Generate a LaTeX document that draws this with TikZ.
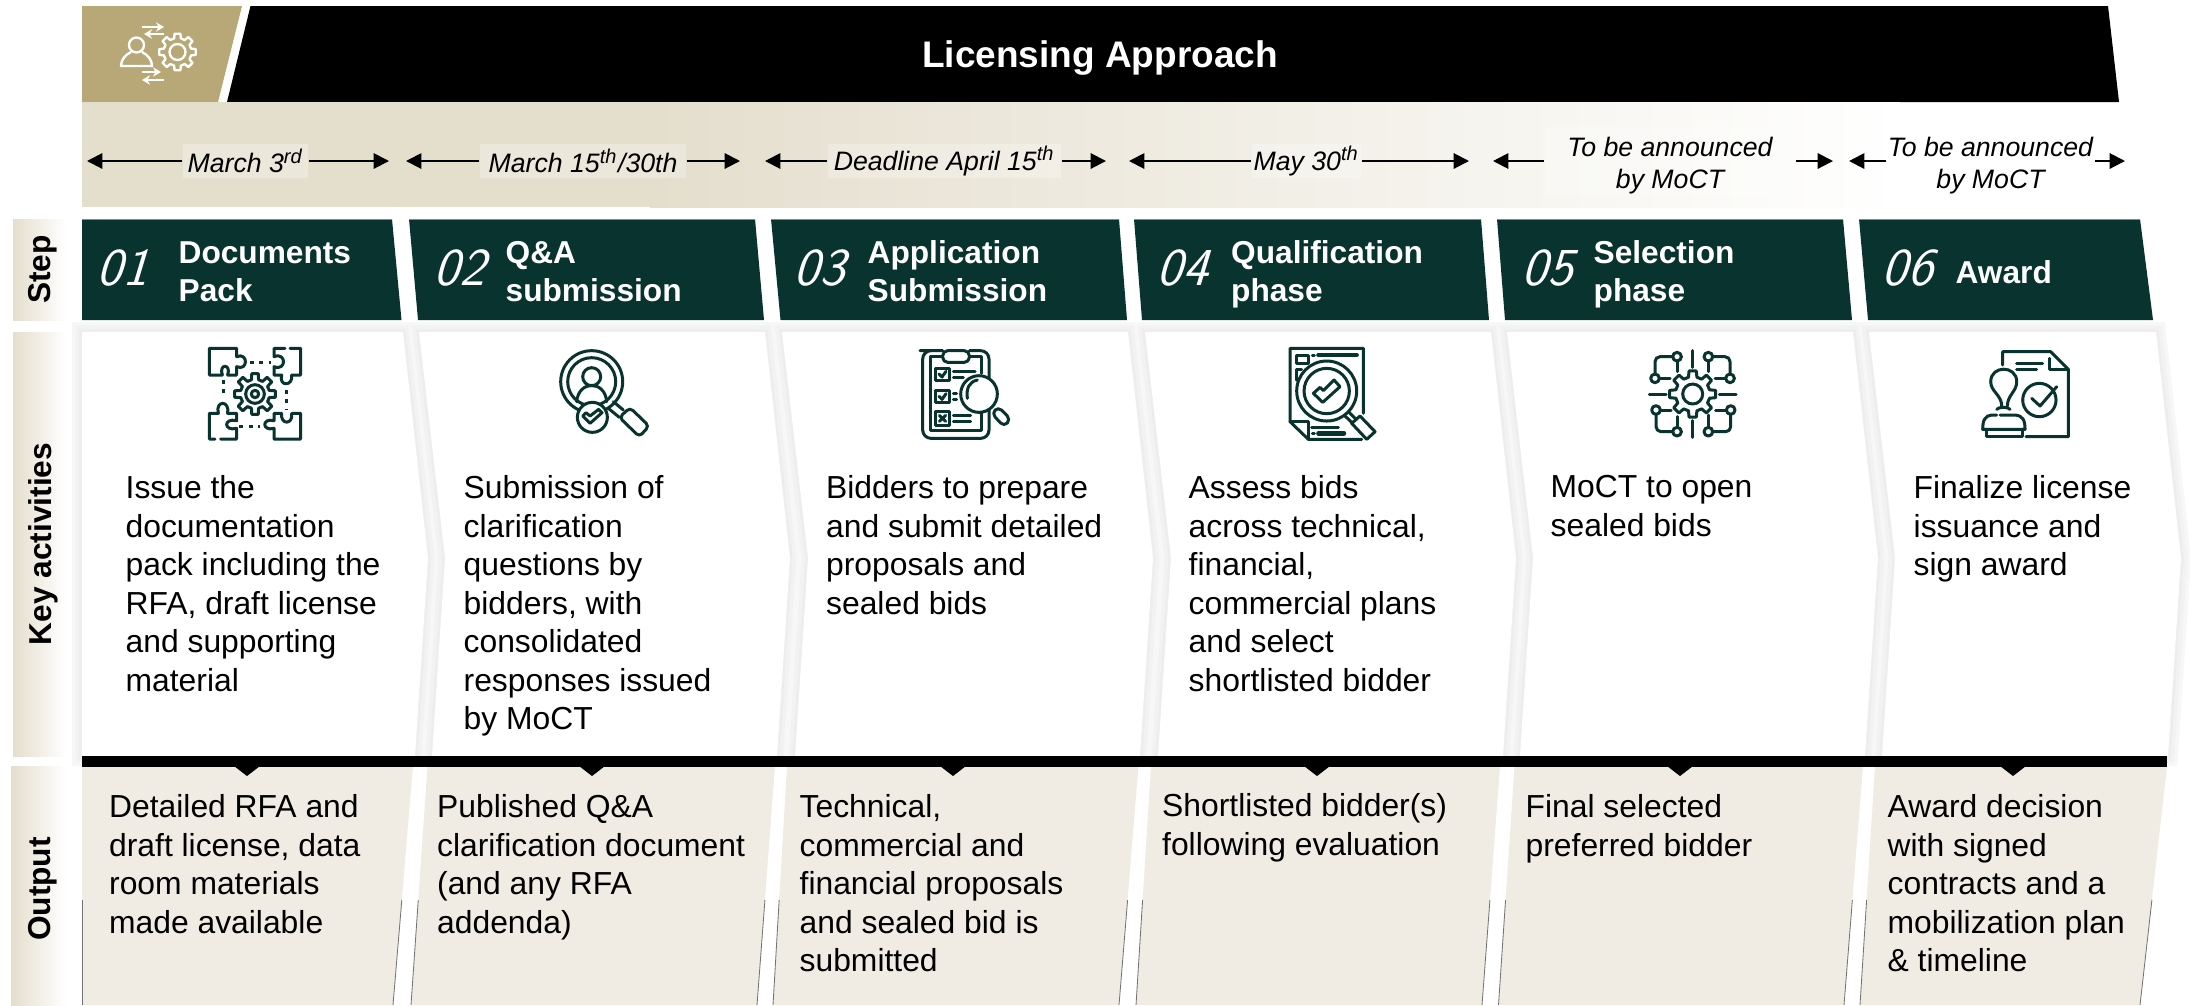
\documentclass[tikz,border=0pt]{standalone}
\usepackage{fontspec}
\setmainfont{Liberation Sans}
\newfontfamily\numfont[FakeSlant=0.3]{Latin Modern Sans}
\usetikzlibrary{arrows.meta}
\definecolor{stepgreen}{HTML}{09332F}
\definecolor{headgold}{HTML}{B8A878}
\definecolor{bandgold}{HTML}{E4DECD}
\definecolor{outfill}{HTML}{F0ECE4}
\newcommand{\gearshape}[3]{\draw[shift={(#1)}] (-14:#2) \foreach \a in {0,45,...,315}{ -- (\a-14:#2) -- (\a-9:#3) -- (\a+9:#3) -- (\a+14:#2)} -- cycle;}
\begin{document}
\begin{tikzpicture}[x=0.3pt,y=-0.3pt,
    bodytext/.style={anchor=north west,align=left,inner sep=0pt,font=\fontsize{9.55}{11.55}\selectfont,execute at begin node=\strut},
    steptext/.style={anchor=west,align=left,inner sep=0pt,text=white,font=\bfseries\fontsize{9.5}{11.4}\selectfont,execute at begin node=\strut,execute at end node=\strut},
    stepnum/.style={inner sep=0pt,text=white,font=\numfont\fontsize{16}{16}\selectfont},
    rowlabel/.style={rotate=90,inner sep=0pt,font=\bfseries\fontsize{9.5}{11}\selectfont},
    datelabel/.style={inner sep=0pt,align=center,fill=white,fill opacity=0.28,text opacity=1,font=\itshape\fontsize{8}{9.6}\selectfont},
    datearrow/.style={-{Triangle[length=4.6pt,width=4.6pt]},line width=0.6pt},
    cardshadow/.style={preaction={draw=black!3,line width=6pt},preaction={draw=black!5,line width=3.8pt},draw=black!7,line width=1.6pt},
    iconline/.style={color=stepgreen,line width=0.9pt,line join=round,line cap=round},
    iconzoom/.style={x=0.1pt,y=-0.1pt}]

  \useasboundingbox (0,0) rectangle (2190,1005);

  \fill[headgold] (82,6) -- (242,6) -- (218,102) -- (82,102) -- cycle;
  \fill[black] (250.5,6) -- (2108,6) -- (2119,102) -- (227,102) -- cycle;
  \node[text=white,inner sep=0pt,font=\bfseries\fontsize{11.1}{13}\selectfont] (title) at (1100,58) {Licensing Approach};

  \begin{scope}[color=white,line width=0.7pt,line join=round]
    \gearshape{177.5,52}{14}{18.5}
    \draw (177.5,52) circle[radius=8];
    \draw (136.5,45) circle[radius=7.5];
    \draw (131,52) .. controls (125,55) and (121,60) .. (121,66) -- (152,66) .. controls (152,60) and (148,55) .. (142,52);
    \draw[-{Stealth[length=2.4pt,width=2.8pt]}] (142,27) -- (164,27);
    \draw[-{Stealth[length=2.4pt,width=2.8pt]}] (164,34) -- (144,34);
    \draw[-{Stealth[length=2.4pt,width=2.8pt]}] (142,72) -- (161,72);
    \draw[-{Stealth[length=2.4pt,width=2.8pt]}] (164,80) -- (142,80);
  \end{scope}

  \fill[bandgold] (82,102) rectangle (650,207);
  \shade[left color=bandgold,right color=white] (650,102) rectangle (1900,207);

  \node[datelabel,minimum width=37.5pt,minimum height=10.2pt] (date1) at (245.5,161) {March 3\textsuperscript{rd}};
  \node[datelabel,minimum width=61.8pt,minimum height=10.2pt] (date2) at (583,161) {March 15\textsuperscript{th}/30th};
  \node[datelabel,minimum width=69.9pt,minimum height=10.2pt] (date3) at (944.5,161) {Deadline April 15\textsuperscript{th}};
  \node[datelabel,minimum width=32.7pt,minimum height=10.2pt] (date4) at (1306.5,161) {May 30\textsuperscript{th}};
  \node[datelabel,minimum width=75pt,minimum height=20.4pt] (date5) at (1670,161) {\rule{0pt}{8.3pt}To be announced\\by MoCT};
  \node[datelabel,minimum width=62.1pt,minimum height=20.4pt] (date6) at (1990.5,161) {\rule{0pt}{8.3pt}To be announced\\by MoCT};

  \foreach \n/\xl/\xr in {1/87/389,2/406/740,3/765/1106,4/1129/1469,5/1493/1833,6/1849/2125}{
    \coordinate (date\n l) at (\xl,161);
    \coordinate (date\n r) at (\xr,161);
    \draw[datearrow] (date\n) -- (date\n l);
    \draw[datearrow] (date\n) -- (date\n r);
  }

  \shade[left color=bandgold,right color=white] (13,219) rectangle (66,320);
  \shade[left color=bandgold,right color=white] (13,332) rectangle (66,756);
  \shade[left color=bandgold,right color=white] (11,766) rectangle (66,1005);
  \node[rowlabel] (rowstep) at (43,269.5) {Step};
  \node[rowlabel] (rowkey) at (43,544) {Key activities};
  \node[rowlabel] (rowout) at (43,889) {Output};

  \foreach \tl/\bl/\tr/\br in {82/82/392/401.5,409/418/755/764,771/780.5/1119/1127,1134/1142/1481/1489,1497/1505/1843/1852,1859/1868/2140/2153}{
    \fill[stepgreen] (\tl,219) -- (\tr,219) -- (\br,320) -- (\bl,320) -- cycle;
    \draw[stepgreen!55,line width=0.3pt] (\tl,219.5) -- (\tr,219.5);
  }

  \node[stepnum] (num1) at (122,268) {01};
  \node[stepnum] (num2) at (459,268) {02};
  \node[stepnum] (num3) at (819,268) {03};
  \node[stepnum] (num4) at (1182,268) {04};
  \node[stepnum] (num5) at (1547,268) {05};
  \node[stepnum] (num6) at (1907,268) {06};
  \node[steptext] (step1) at (178,277) {Documents\\Pack};
  \node[steptext] (step2) at (505,277) {Q\&A\\submission};
  \node[steptext] (step3) at (867,277) {Application\\Submission};
  \node[steptext] (step4) at (1230.5,277) {Qualification\\phase};
  \node[steptext] (step5) at (1593,277) {Selection\\phase};
  \node[steptext] (step6) at (1955,276) {Award};

  \foreach \la/\lb/\lc/\ra in {82/82/82/403,419/445/432/765,782/808/795/1128,1145/1171/1158/1491,1507/1533/1520/1853,1869/1895/1882/2156}{
    \draw[cardshadow] (\la,332) -- (\ra,332) -- (\ra+25,558) -- (\ra+12,756) -- (\lc,756) -- (\lb,558) -- cycle;
  }
  \foreach \la/\lb/\lc/\ra in {82/82/82/403,419/445/432/765,782/808/795/1128,1145/1171/1158/1491,1507/1533/1520/1853,1869/1895/1882/2156}{
    \fill[white] (\la,332) -- (\ra,332) -- (\ra+25,558) -- (\ra+12,756) -- (\lc,756) -- (\lb,558) -- cycle;
  }

  \foreach \tl/\bl/\tr/\br in {82/82/413/393,427.5/411/775/757,787/773/1138.5/1119,1151/1136/1500/1482,1514.5/1498.5/1863/1844,1875/1860/2167/2140}{
    \fill[outfill] (\tl,766) -- (\tr,766) -- (\br,1005) -- (\bl,1005) -- cycle;
    \draw[black!55,line width=0.25pt] (\bl,1005) -- (\bl+0.44*\tl-0.44*\bl,900);
    \draw[black!55,line width=0.25pt] (\br,1005) -- (\br+0.44*\tr-0.44*\br,900);
  }

  \fill[black] (82,756) rectangle (2167,767);
  \foreach \cx in {247,592,953,1317,1680,2013}{
    \fill[black] (\cx-13,766) -- (\cx+13,766) -- (\cx,776) -- cycle;
  }

  \node[bodytext] (act1) at (125,475) {Issue the\\documentation\\pack including the\\RFA, draft license\\and supporting\\material};
  \node[bodytext] (act2) at (463,475) {Submission of\\clarification\\questions by\\bidders, with\\consolidated\\responses issued\\by MoCT};
  \node[bodytext] (act3) at (825.5,475) {Bidders to prepare\\and submit detailed\\proposals and\\sealed bids};
  \node[bodytext] (act4) at (1188,475) {Assess bids\\across technical,\\financial,\\commercial plans\\and select\\shortlisted bidder};
  \node[bodytext] (act5) at (1550,475) {MoCT to open\\sealed bids};
  \node[bodytext] (act6) at (1913,475) {Finalize license\\issuance and\\sign award};

  \node[bodytext] (out1) at (108.5,794) {Detailed RFA and\\draft license, data\\room materials\\made available};
  \node[bodytext] (out2) at (436.5,794) {Published Q\&A\\clarification document\\(and any RFA\\addenda)};
  \node[bodytext] (out3) at (799,794) {Technical,\\commercial and\\financial proposals\\and sealed bid is\\submitted};
  \node[bodytext] (out4) at (1161.5,793) {Shortlisted bidder(s)\\following evaluation};
  \node[bodytext] (out5) at (1525,794) {Final selected\\preferred bidder};
  \node[bodytext] (out6) at (1887,794) {Award decision\\with signed\\contracts and a\\mobilization plan\\\& timeline};

  \begin{scope}[shift={(180,330)},iconzoom,iconline]
    \draw (88,135) -- (88,55) -- (170,55) -- (170,80) .. controls (205,65) and (205,125) .. (170,110) -- (170,135) -- (143,135) .. controls (155,100) and (115,100) .. (127,135) -- cycle;
    \draw (330,55) -- (362,55) -- (362,135) -- (335,135) .. controls (340,170) and (295,170) .. (305,135) -- (282,135) -- (282,110) .. controls (320,125) and (320,65) .. (282,80) -- (282,55) -- (315,55);
    \draw (105,327) -- (88,327) -- (88,250) -- (115,250) .. controls (105,210) and (150,210) .. (143,250) -- (170,250) -- (170,272) .. controls (130,262) and (130,305) .. (170,295) -- (170,327) -- (122,327);
    \draw (362,250) -- (335,250) .. controls (340,285) and (300,285) .. (305,250) -- (282,250) -- (282,272) .. controls (245,262) and (245,305) .. (282,295) -- (282,327) -- (362,327) -- cycle;
    \draw[dash pattern=on 1.2pt off 1.6pt,line cap=butt] (210,97) -- (272,97);
    \draw[dash pattern=on 1.2pt off 1.6pt,line cap=butt] (130,150) -- (130,205);
    \draw[dash pattern=on 1.2pt off 1.6pt,line cap=butt] (320,180) -- (320,240);
    \draw[dash pattern=on 1.2pt off 1.6pt,line cap=butt] (178,288) -- (240,288);
    \gearshape{225,192}{44}{62}
    \draw (225,192) circle[radius=28];
    \draw (225,192) circle[radius=11];
  \end{scope}

  \begin{scope}[shift={(180,330)},iconzoom,iconline]
    \draw (1235,155) circle[radius=93];
    \draw (1235,155) circle[radius=72];
    \draw (1235,140) circle[radius=27];
    \draw (1190,215) .. controls (1195,150) and (1275,150) .. (1280,215);
    \draw (1300,215) -- (1330,240);
    \draw (1285,235) -- (1318,262);
    \draw[rounded corners=1.2pt] (1318,262) -- (1350,233) -- (1407,288) -- (1378,320) -- cycle;
    \filldraw[fill=white] (1237,262) circle[radius=45];
    \draw (1208,258) -- (1218,248) -- (1230,258) -- (1256,238) -- (1266,248) -- (1230,280) -- cycle;
  \end{scope}

  \begin{scope}[shift={(880,330)},iconzoom,iconline]
    \draw[rounded corners=2.5pt] (188,62) -- (145,62) -- (128,62) -- (128,325) -- (327,325) -- (327,62) -- (268,62);
    \draw[rounded corners=1.5pt] (188,62) -- (188,97) -- (268,97) -- (268,62) -- cycle;
    \draw (188,80) -- (150,80) -- (150,300) -- (305,300) -- (305,250);
    \draw (268,80) -- (305,80) -- (305,130);
    \draw (167,115) rectangle (208,150);
    \draw (167,180) rectangle (208,218);
    \draw (167,245) rectangle (208,285);
    \draw (177,132) -- (186,141) -- (198,124);
    \draw (177,199) -- (186,208) -- (198,191);
    \draw (178,256) -- (197,274);
    \draw (197,256) -- (178,274);
    \draw (220,125) -- (285,125);
    \draw (220,142) -- (250,142);
    \draw (220,190) -- (230,190);
    \draw (220,208) -- (230,208);
    \draw (220,257) -- (272,257);
    \draw (220,275) -- (272,275);
    \filldraw[fill=white] (297,192) circle[radius=55];
    \draw (262,205) .. controls (258,175) and (268,155) .. (292,150);
    \draw[rounded corners=1.5pt] (335,250) -- (355,230) -- (392,268) -- (372,290) -- cycle;
  \end{scope}

  \begin{scope}[shift={(880,330)},iconzoom,iconline]
    \draw (1450,250) -- (1450,55) -- (1230,55) -- (1230,275) -- (1285,328) -- (1445,328);
    \draw (1230,275) -- (1285,275) -- (1285,328);
    \draw (1248,75) rectangle (1285,100);
    \draw (1297,75) -- (1303,75);
    \draw[line width=1.3pt] (1315,75) -- (1430,75);
    \draw (1248,150) -- (1248,118) -- (1265,118);
    \draw (1295,292) -- (1375,292);
    \draw (1297,310) -- (1303,310);
    \draw[line width=1.3pt] (1315,310) -- (1392,310);
    \filldraw[fill=white] (1340,183) circle[radius=90];
    \draw (1340,183) circle[radius=68];
    \draw (1300,190) -- (1320,172) -- (1330,182) -- (1362,150) -- (1380,170) -- (1328,217) -- cycle;
    \draw (1405,245) -- (1428,268);
    \draw (1395,258) -- (1418,280);
    \draw (1415,280) -- (1440,258) -- (1485,305) -- (1460,328) -- cycle;
  \end{scope}

  \begin{scope}[shift={(1600,330)},iconzoom,iconline]
    \gearshape{278,192}{52}{70}
    \draw (278,192) circle[radius=30];
    \draw (278,62) -- (278,112);
    \draw (278,272) -- (278,322);
    \draw (148,192) -- (198,192);
    \draw (358,192) -- (408,192);
    \foreach \cx/\cy in {231/80,325/80,165/145,390/145,168/240,392/240,231/305,325/305}{
      \draw (\cx,\cy) circle[radius=13];
    }
    \draw (231,93) -- (231,125);
    \draw (325,93) -- (325,125);
    \draw (178,145) -- (210,145);
    \draw (345,145) -- (377,145);
    \draw (181,240) -- (213,240);
    \draw (347,240) -- (379,240);
    \draw (231,292) -- (231,260);
    \draw (325,292) -- (325,255);
    \draw[rounded corners=1.5pt] (218,80) -- (165,80) -- (165,132);
    \draw[rounded corners=1.5pt] (338,80) -- (390,80) -- (390,132);
    \draw[rounded corners=1.5pt] (168,253) -- (168,305) -- (218,305);
    \draw[rounded corners=1.5pt] (392,253) -- (392,305) -- (338,305);
  \end{scope}

  \begin{scope}[shift={(1600,330)},iconzoom,iconline]
    \draw (1208,105) -- (1208,65) -- (1352,65) -- (1405,118) -- (1405,320) -- (1278,320);
    \draw (1347,85) -- (1347,118) -- (1405,118);
    \draw (1250,100) -- (1328,100);
    \draw (1250,118) -- (1310,118);
    \draw (1318,210) circle[radius=50];
    \draw (1295,205) -- (1320,228) -- (1370,170);
    \draw (1205,228) .. controls (1205,195) and (1172,185) .. (1172,155) .. controls (1172,105) and (1250,105) .. (1250,155) .. controls (1250,185) and (1222,195) .. (1222,228);
    \draw (1190,238) .. controls (1195,230) and (1225,230) .. (1230,238);
    \draw (1190,255) -- (1175,255) .. controls (1155,257) and (1148,270) .. (1148,298) -- (1275,298) .. controls (1275,270) and (1268,257) .. (1245,255) -- (1200,255);
    \draw (1158,298) -- (1158,320) -- (1268,320) -- (1268,298);
  \end{scope}

\end{tikzpicture}
\end{document}
